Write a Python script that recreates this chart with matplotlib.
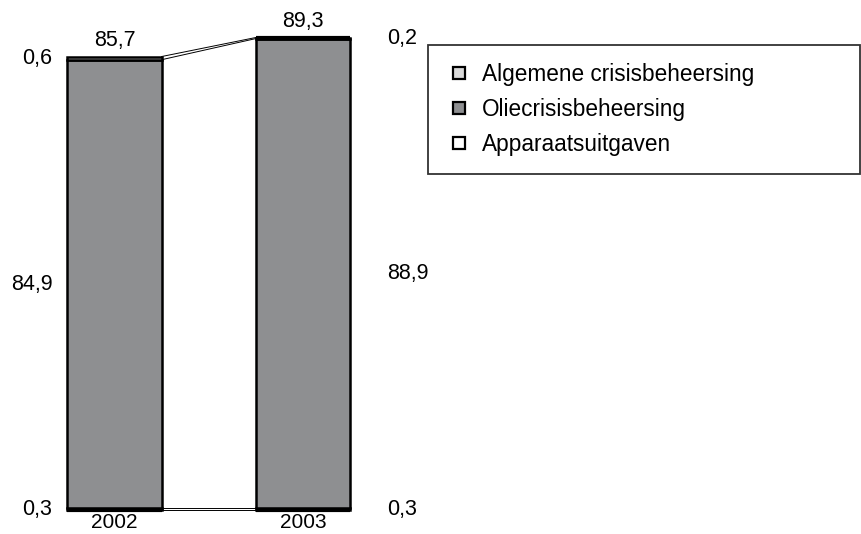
import matplotlib
matplotlib.use("Agg")
import matplotlib.pyplot as plt
from matplotlib.lines import Line2D
import numpy as np

plt.rcParams['font.family'] = ['Liberation Sans', 'DejaVu Sans']

jaren = ["2002", "2003"]
reeksen = ["Apparaatsuitgaven", "Oliecrisisbeheersing", "Algemene crisisbeheersing"]
apparaat = [0.3, 0.3]
olie = [84.9, 88.9]
algemeen = [0.6, 0.2]
totalen = ["85,7", "89,3"]
kleuren = ["#ffffff", "#8e8f91", "#d9d9d9"]

waarden = np.array([apparaat, olie, algemeen])
x = np.arange(len(jaren))
breedte = 0.5

fig = plt.figure(figsize=(8.61, 5.34), dpi=100)
ax = fig.add_axes([0, 0, 1, 1])
ax.set_xlim(-0.608, 3.964)
ax.set_ylim(-4.54, 96.5)
ax.axis("off")

onder = np.zeros(len(jaren))
grenzen = [onder.copy()]
for i in range(len(reeksen)):
    ax.bar(x, waarden[i], breedte, bottom=onder, color=kleuren[i],
           edgecolor="black", linewidth=1.8, zorder=3)
    onder = onder + waarden[i]
    grenzen.append(onder.copy())

# bodem en top 2003 dikker
ax.hlines(np.zeros(len(x)), x - breedte / 2, x + breedte / 2, color="black", lw=3, zorder=4)
ax.hlines(grenzen[-1][1], x[1] - breedte / 2, x[1] + breedte / 2, color="black", lw=3, zorder=4)

# verbindingslijnen tussen de staven
for g in grenzen:
    ax.plot([x[0] + breedte / 2, x[1] - breedte / 2], [g[0], g[1]],
            color="black", lw=0.7, zorder=2)

fmt = lambda v: f"{v:.1f}".replace(".", ",")

# labels per segment
for i in range(len(reeksen)):
    midden = grenzen[i] + waarden[i] / 2
    ax.text(x[0] - breedte / 2 - 0.08, midden[0], fmt(waarden[i][0]),
            ha="right", va="center", fontsize=15.5)
    ax.text(x[1] + breedte / 2 + 0.2, midden[1], fmt(waarden[i][1]),
            ha="left", va="center", fontsize=15.5)

for i in range(len(jaren)):
    ax.annotate(totalen[i], (x[i], grenzen[-1][i]), xytext=(0, 7.5),
                textcoords="offset points", ha="center", va="baseline", fontsize=15.5)
    ax.annotate(jaren[i], (x[i], 0), xytext=(0, -2.5),
                textcoords="offset points", ha="center", va="top", fontsize=15)

handles = [Line2D([], [], linestyle="none", marker="s", markersize=9,
                  markerfacecolor=kleuren[i], markeredgecolor="black", markeredgewidth=1.6)
           for i in [2, 1, 0]]
labels = [reeksen[i] for i in [2, 1, 0]]
leg = fig.legend(handles, labels, loc="upper left",
                 bbox_to_anchor=(428 / 861, 1 - 45 / 534, 432 / 861, 0.0),
                 mode="expand", fontsize=16.3, frameon=True, fancybox=False,
                 handlelength=1.1, handletextpad=0.5,
                 labelspacing=0.52, borderpad=0.8, borderaxespad=0)
leg.get_frame().set_edgecolor("black")
leg.get_frame().set_linewidth(1.3)

fig.savefig("out.png", dpi=100)
